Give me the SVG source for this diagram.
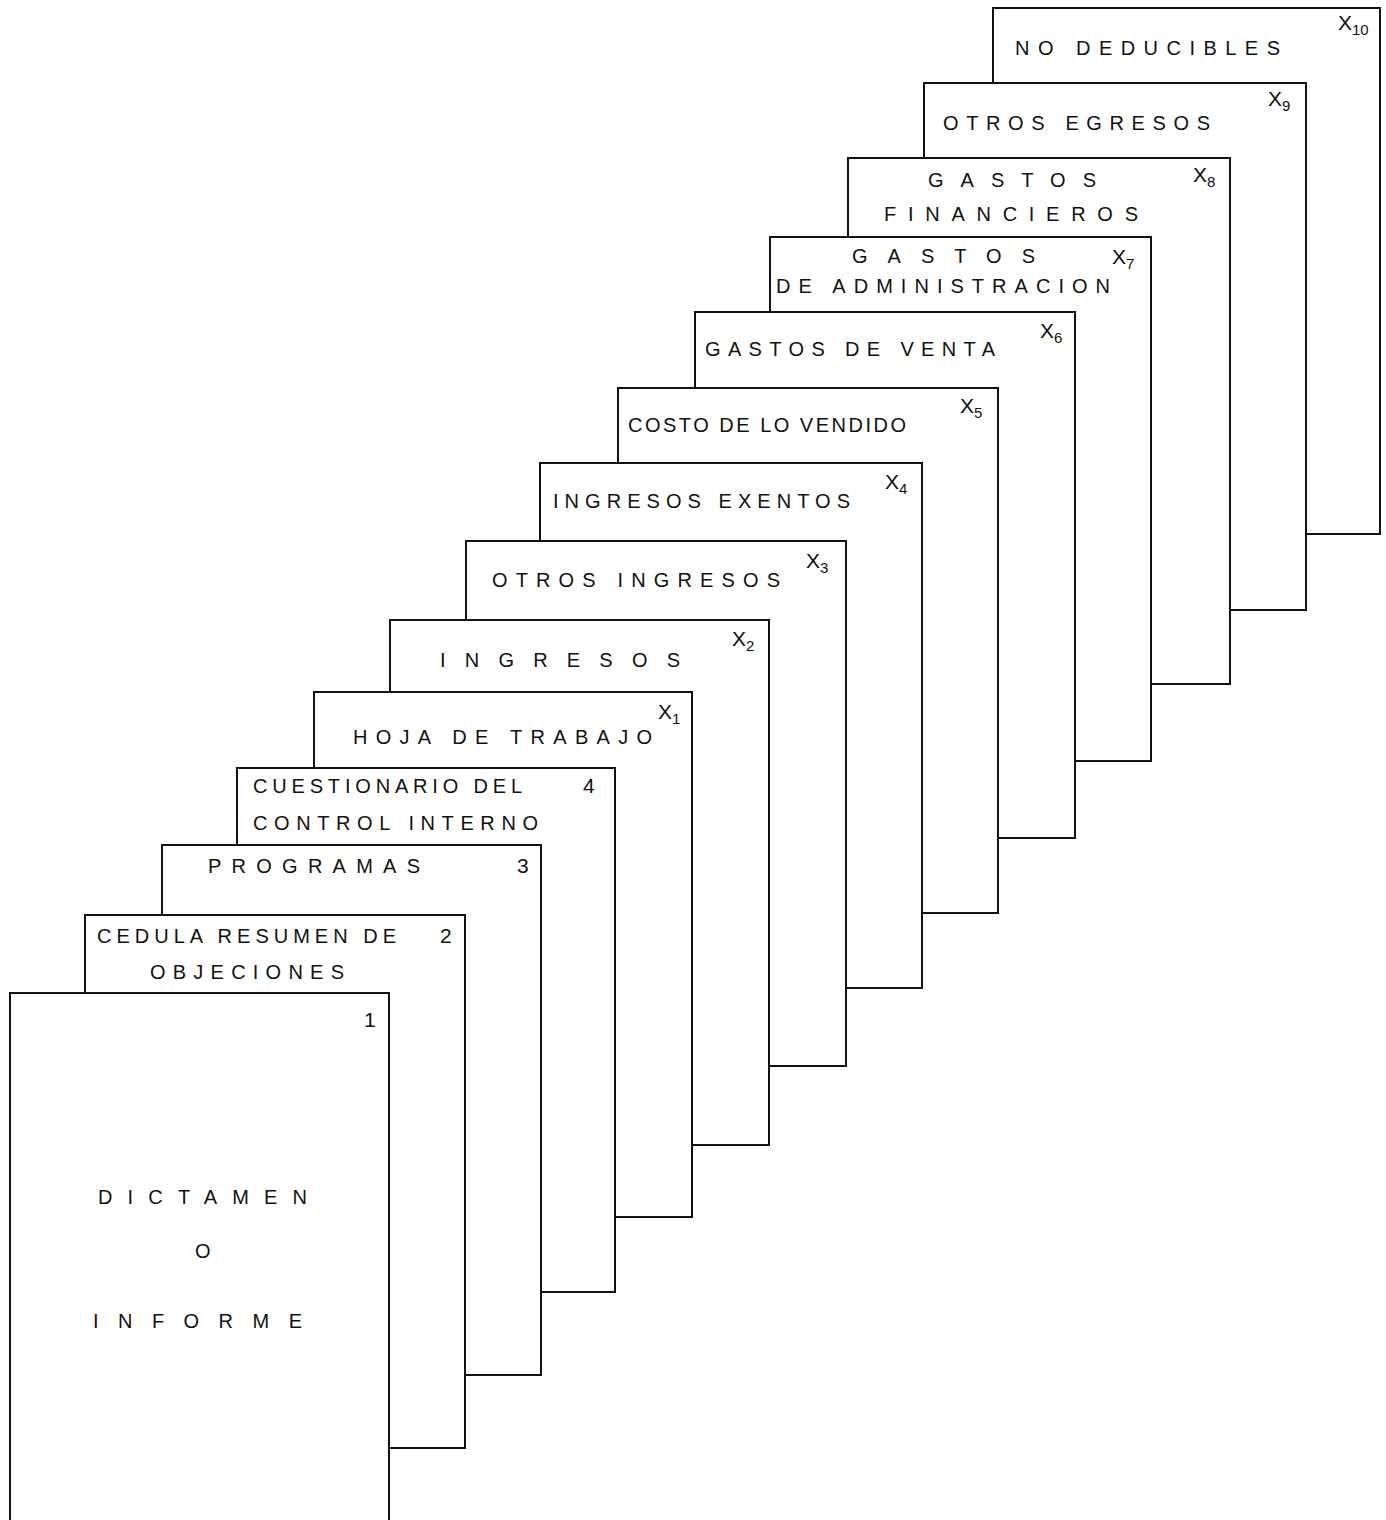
<svg xmlns="http://www.w3.org/2000/svg" width="1386" height="1520" viewBox="0 0 1386 1520">
<style>
.pg{fill:#fff;stroke:#111;stroke-width:2}
.t{font-family:"Liberation Sans",Arial,sans-serif;font-size:20px;fill:#111}
.n{font-family:"Liberation Sans",Arial,sans-serif;font-size:21px;fill:#111}
.s{font-size:15px}
</style>
<rect width="1386" height="1520" fill="#fff"/>
<g id="page-x10">
<rect class="pg" x="993" y="8" width="387" height="526"/>
<text class="t" x="1015" y="55" textLength="265" lengthAdjust="spacing">NO DEDUCIBLES</text>
<text class="n" x="1338" y="30">X<tspan class="s" dy="5">10</tspan></text>
</g>
<g id="page-x9">
<rect class="pg" x="924" y="83" width="382" height="527"/>
<text class="t" x="943" y="130" textLength="267" lengthAdjust="spacing">OTROS EGRESOS</text>
<text class="n" x="1268" y="106">X<tspan class="s" dy="5">9</tspan></text>
</g>
<g id="page-x8">
<rect class="pg" x="848" y="158" width="382" height="526"/>
<text class="t" x="928" y="187" textLength="168" lengthAdjust="spacing">GASTOS</text>
<text class="t" x="884" y="221" textLength="254" lengthAdjust="spacing">FINANCIEROS</text>
<text class="n" x="1193" y="182">X<tspan class="s" dy="5">8</tspan></text>
</g>
<g id="page-x7">
<rect class="pg" x="770" y="237" width="381" height="524"/>
<text class="t" x="852" y="263" textLength="183" lengthAdjust="spacing">GASTOS</text>
<text class="t" x="776" y="293" textLength="334" lengthAdjust="spacing">DE ADMINISTRACION</text>
<text class="n" x="1112" y="264">X<tspan class="s" dy="5">7</tspan></text>
</g>
<g id="page-x6">
<rect class="pg" x="695" y="312" width="380" height="526"/>
<text class="t" x="705" y="356" textLength="290" lengthAdjust="spacing">GASTOS DE VENTA</text>
<text class="n" x="1040" y="338">X<tspan class="s" dy="5">6</tspan></text>
</g>
<g id="page-x5">
<rect class="pg" x="618" y="388" width="380" height="525"/>
<text class="t" x="628" y="432" textLength="278" lengthAdjust="spacing">COSTO DE LO VENDIDO</text>
<text class="n" x="960" y="413">X<tspan class="s" dy="5">5</tspan></text>
</g>
<g id="page-x4">
<rect class="pg" x="540" y="463" width="382" height="525"/>
<text class="t" x="553" y="508" textLength="297" lengthAdjust="spacing">INGRESOS EXENTOS</text>
<text class="n" x="885" y="489">X<tspan class="s" dy="5">4</tspan></text>
</g>
<g id="page-x3">
<rect class="pg" x="466" y="541" width="380" height="525"/>
<text class="t" x="492" y="587" textLength="288" lengthAdjust="spacing">OTROS INGRESOS</text>
<text class="n" x="806" y="568">X<tspan class="s" dy="5">3</tspan></text>
</g>
<g id="page-x2">
<rect class="pg" x="390" y="620" width="379" height="525"/>
<text class="t" x="440" y="667" textLength="240" lengthAdjust="spacing">INGRESOS</text>
<text class="n" x="732" y="646">X<tspan class="s" dy="5">2</tspan></text>
</g>
<g id="page-x1">
<rect class="pg" x="314" y="692" width="378" height="525"/>
<text class="t" x="353" y="744" textLength="299" lengthAdjust="spacing">HOJA DE TRABAJO</text>
<text class="n" x="658" y="719">X<tspan class="s" dy="5">1</tspan></text>
</g>
<g id="page-4">
<rect class="pg" x="237" y="768" width="378" height="524"/>
<text class="t" x="253" y="793" textLength="269" lengthAdjust="spacing">CUESTIONARIO DEL</text>
<text class="t" x="253" y="830" textLength="285" lengthAdjust="spacing">CONTROL INTERNO</text>
<text class="n" x="583" y="793">4</text>
</g>
<g id="page-3">
<rect class="pg" x="162" y="845" width="379" height="530"/>
<text class="t" x="208" y="873" textLength="212" lengthAdjust="spacing">PROGRAMAS</text>
<text class="n" x="517" y="873">3</text>
</g>
<g id="page-2">
<rect class="pg" x="85" y="915" width="380" height="533"/>
<text class="t" x="97" y="943" textLength="299" lengthAdjust="spacing">CEDULA RESUMEN DE</text>
<text class="t" x="150" y="979" textLength="194" lengthAdjust="spacing">OBJECIONES</text>
<text class="n" x="440" y="943">2</text>
</g>
<g id="page-1">
<rect class="pg" x="10" y="993" width="379" height="540"/>
<text class="n" x="364" y="1027">1</text>
<text class="t" x="98" y="1204" textLength="209" lengthAdjust="spacing">DICTAMEN</text>
<text class="t" x="195" y="1258">O</text>
<text class="t" x="93" y="1328" textLength="209" lengthAdjust="spacing">INFORME</text>
</g>
<g id="connectors"></g>
</svg>
